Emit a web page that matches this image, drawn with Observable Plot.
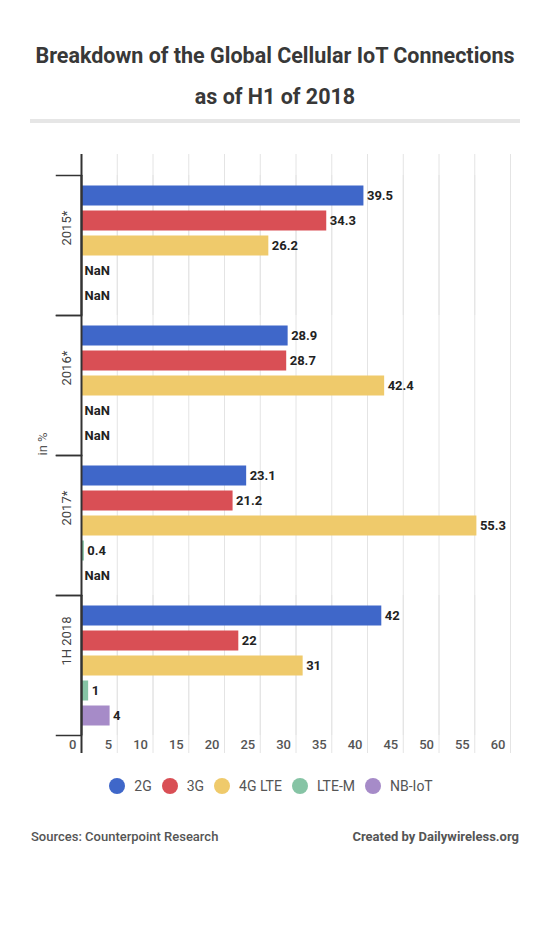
<!DOCTYPE html>
<html><head><meta charset="utf-8">
<script src="https://cdn.jsdelivr.net/npm/d3@7"></script>
<script src="https://cdn.jsdelivr.net/npm/@observablehq/plot@0.6"></script>
<style>
body{margin:0;background:#fff;font-family:Roboto,"Noto Sans",sans-serif;}
#wrap{position:relative;width:550px;height:927px;background:#fff;overflow:hidden;}
.title{position:absolute;left:0;top:35px;width:550px;text-align:center;font-weight:700;font-size:21.5px;line-height:41px;color:#383838;}
.rule{position:absolute;left:30px;top:119px;width:490px;height:4px;background:#e6e6e6;}
#chart{position:absolute;left:0;top:129px;}
.legend{position:absolute;left:0;top:778px;width:542px;display:flex;justify-content:center;align-items:center;font-size:14px;color:#555;}
.legend .item{display:flex;align-items:center;margin:0 5px;}
.legend .sw{width:16px;height:16px;border-radius:50%;margin-right:9px;}
.foot{position:absolute;top:829px;font-size:13px;color:#555;}
</style></head>
<body><div id="wrap">
<div class="title">Breakdown of the Global Cellular IoT Connections<br>as of H1 of 2018</div>
<div class="rule"></div>
<div id="chart"></div>
<div class="legend" id="legend"></div>
<div class="foot" style="left:31px;font-weight:500;">Sources: Counterpoint Research</div>
<div class="foot" style="right:31px;font-weight:700;">Created by Dailywireless.org</div>
</div>
<script>
const years = ["2015*", "2016*", "2017*", "1H 2018"];
const series = ["2G", "3G", "4G LTE", "LTE-M", "NB-IoT"];
const v2G = [39.5, 28.9, 23.1, 42];
const v3G = [34.3, 28.7, 21.2, 22];
const v4GLTE = [26.2, 42.4, 55.3, 31];
const vLTEM = [NaN, NaN, 0.4, 1];
const vNBIoT = [NaN, NaN, NaN, 4];
const colors = ["#3F67C9", "#D94F55", "#EFCA6B", "#86C4A5", "#A68BC8"];
const xTicks = [0, 5, 10, 15, 20, 25, 30, 35, 40, 45, 50, 55, 60];
const axisTitle = "in %";

const valueSets = [v2G, v3G, v4GLTE, vLTEM, vNBIoT];
const data = [];
years.forEach((yr, i) => series.forEach((s, j) => data.push({year: yr, series: s, value: valueSets[j][i]})));

// grid rows: one per tick per facet
const grid = [];
years.forEach(yr => xTicks.forEach(t => grid.push({year: yr, x: t})));
const firstYear = years[0], lastYear = years[years.length - 1];
const gridOpts = {stroke: "#e4e4e4", strokeWidth: 1};
const axisOpts = {stroke: "#333", strokeWidth: 2};

const plot = Plot.plot({
  width: 550, height: 636,
  marginTop: 45.5, marginBottom: 30.5, marginLeft: 81, marginRight: 40,
  x: {domain: [0, 60], label: null},
  y: {domain: series, axis: null, paddingInner: 0.21, paddingOuter: 0.38},
  fy: {domain: years, axis: null, padding: 0},
  color: {domain: series, range: colors},
  style: {fontFamily: "Roboto, sans-serif", background: "white"},
  marks: [
    Plot.ruleX(grid.filter(d => d.x > 0), {x: "x", fy: "year", ...gridOpts}),
    Plot.ruleX(grid.filter(d => d.x > 0 && d.year === firstYear), {x: "x", fy: "year", insetTop: -21, ...gridOpts}),
    Plot.ruleX(grid.filter(d => d.x > 0 && d.year === lastYear), {x: "x", fy: "year", insetBottom: -18, ...gridOpts}),
    Plot.barX(data, {fy: "year", y: "series", x: "value", fill: "series"}),
    Plot.text(data, {fy: "year", y: "series", x: d => isNaN(d.value) ? 0 : d.value, text: d => String(d.value),
      textAnchor: "start", dx: 3, fontWeight: 700, fontSize: 13, fill: "#222"}),
    Plot.ruleX(grid.filter(d => d.x === 0), {x: "x", fy: "year", ...axisOpts}),
    Plot.ruleX(grid.filter(d => d.x === 0 && d.year === firstYear), {x: "x", fy: "year", insetTop: -21, ...axisOpts}),
    Plot.ruleX(grid.filter(d => d.x === 0 && d.year === lastYear), {x: "x", fy: "year", insetBottom: -18, ...axisOpts}),
    Plot.frame({anchor: "top", stroke: "#333", strokeWidth: 1.5, insetLeft: -25, insetRight: 429}),
    Plot.frame({anchor: "bottom", stroke: "#333", strokeWidth: 1.5, insetLeft: -25, insetRight: 429}),
    Plot.text(years, {fy: d => d, text: d => d, frameAnchor: "left", dx: -15, rotate: -90, fontSize: 13, fill: "#444"}),
    Plot.text([axisTitle], {facet: "super", text: d => d, frameAnchor: "left", dx: -39, rotate: -90, fontSize: 13, fill: "#555"}),
    Plot.axisX(xTicks, {anchor: "bottom", tickSize: 0, tickPadding: 4, textAnchor: "end", dx: -5, fontSize: 13, fontWeight: 500, fill: "#555", label: null})
  ]
});
document.getElementById("chart").appendChild(plot);

const legend = document.getElementById("legend");
series.forEach((s, i) => {
  const it = document.createElement("div"); it.className = "item";
  const sw = document.createElement("span"); sw.className = "sw"; sw.style.background = colors[i];
  const lb = document.createElement("span"); lb.textContent = s;
  it.appendChild(sw); it.appendChild(lb); legend.appendChild(it);
});
</script>
</body></html>
